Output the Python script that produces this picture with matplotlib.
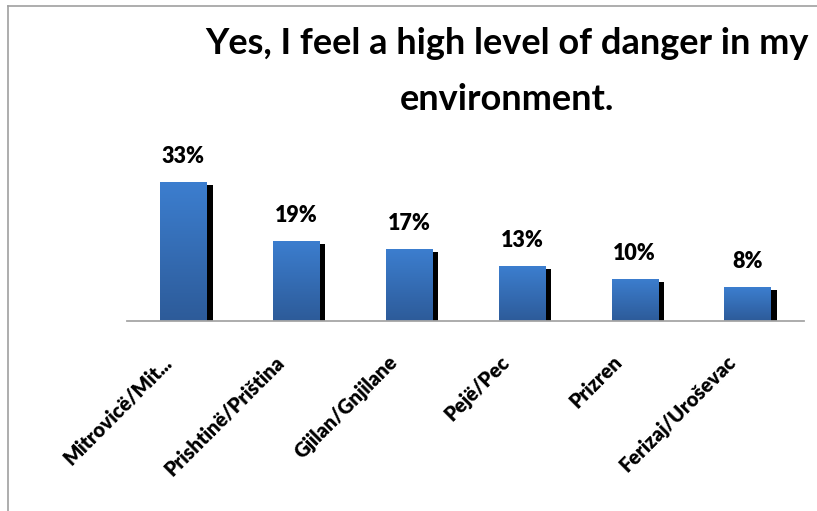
import numpy as np
import matplotlib
matplotlib.use("Agg")
import matplotlib.pyplot as plt
import matplotlib.patheffects as pe
from matplotlib.lines import Line2D

# chart data
cities = ["Mitrovicë/Mit...", "Prishtinë/Priština", "Gjilan/Gnjilane",
          "Pejë/Pec", "Prizren", "Ferizaj/Uroševac"]
shares = [33, 19, 17, 13, 10, 8]
title = "Yes, I feel a high level of danger in my\nenvironment."

W, H = 817, 511
plt.rcParams['font.family'] = ['Lato', 'DejaVu Sans']

fig = plt.figure(figsize=(W / 100, H / 100), dpi=100)
fig.patch.set_facecolor("white")

# axes placed in pixel terms
left, right, base, top = 127, 804, 321, 173.6
ax = fig.add_axes([left / W, (H - base) / H, (right - left) / W, (base - top) / H])

x = np.arange(len(cities))
bars = ax.bar(x, shares, width=0.41, color="#3468B5", zorder=2)

# vertical gradient + drop shadow like the office chart
grad = np.linspace(0, 1, 256).reshape(-1, 1)
cmap = matplotlib.colors.LinearSegmentedColormap.from_list("g", ["#2D5B99", "#3C7ECF"])
for b in bars:
    b.set_path_effects([pe.SimplePatchShadow(offset=(4.3, -2.2), shadow_rgbFace="black",
                                             alpha=1.0), pe.Normal()])
    im = ax.imshow(grad, cmap=cmap, aspect="auto", origin="lower", zorder=3,
                   extent=[b.get_x(), b.get_x() + b.get_width(), 0, b.get_height()])
    im.set_clip_path(b)
ax.set_xlim(-0.5, len(cities) - 0.5)
ax.set_ylim(0, 35)

for xi, v in zip(x, shares):
    ax.annotate(f"{v}%", xy=(xi, v), xytext=(0, 15), textcoords="offset pixels",
                ha="center", va="bottom", fontsize=15.5, fontweight="heavy", color="black")

for s in ["top", "left", "right"]:
    ax.spines[s].set_visible(False)
ax.spines["bottom"].set_color("#A6A6A6")
ax.spines["bottom"].set_linewidth(1.3)
ax.spines["bottom"].set_zorder(5)
ax.set_yticks([])
ax.set_xticks(x)
ax.set_xticklabels([])
ax.tick_params(axis="x", length=0)

for xi, name in zip(x, cities):
    ax.annotate(name, xy=(xi, 0), xytext=(-22, -31), textcoords="offset pixels",
                rotation=45, rotation_mode="anchor", ha="right", va="top",
                fontsize=14.5, fontweight="heavy", color="black")

fig.text(507 / W, 1 - 27 / H, title, ha="center", va="top", fontsize=26,
         fontweight="bold", linespacing=1.85)

# outer frame of the chart area (left and top edges visible)
fig.add_artist(Line2D([8 / W, 8 / W], [0, 1 - 6 / H], color="#A0A0A0", lw=1.2,
                      transform=fig.transFigure))
fig.add_artist(Line2D([8 / W, 1], [1 - 6 / H, 1 - 6 / H], color="#A0A0A0", lw=1.2,
                      transform=fig.transFigure))

fig.savefig("out.png", dpi=100)
